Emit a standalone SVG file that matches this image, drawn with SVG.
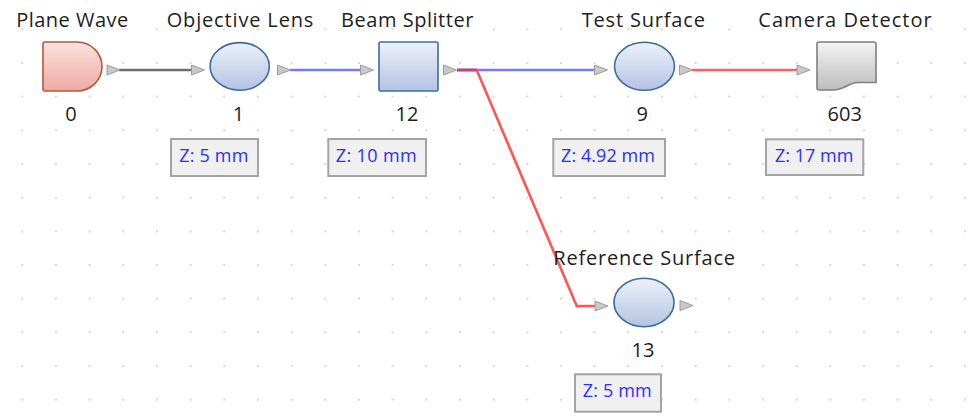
<svg xmlns="http://www.w3.org/2000/svg" width="971" height="419" viewBox="0 0 971 419">
<defs>
<pattern id="grid" patternUnits="userSpaceOnUse" x="21.3" y="28.3" width="33.667" height="33.667">
<rect x="0" y="0" width="2" height="2" fill="#d8d8d8"/>
</pattern>
<linearGradient id="gBlue" x1="0" y1="0" x2="0" y2="1">
<stop offset="0" stop-color="#edf1fa"/>
<stop offset="1" stop-color="#b3c3e3"/>
</linearGradient>
<linearGradient id="gRed" x1="0" y1="0" x2="0" y2="1">
<stop offset="0" stop-color="#fbe3df"/>
<stop offset="1" stop-color="#eeaaa1"/>
</linearGradient>
<linearGradient id="gGray" x1="0" y1="0" x2="0" y2="1">
<stop offset="0" stop-color="#f4f4f4"/>
<stop offset="1" stop-color="#bdbdbd"/>
</linearGradient>
<path id="tri" d="M0,-5 L13,0 L0,5 Z"/>
</defs>
<style>
.title{font-family:"Open Sans","Noto Sans","Liberation Sans",sans-serif;font-size:20px;fill:#1e1e1e;text-anchor:middle}
.num{font-family:"Open Sans","Noto Sans","Liberation Sans",sans-serif;font-size:20px;fill:#1e1e1e;text-anchor:middle}
.z{font-family:"Open Sans","Noto Sans","Liberation Sans",sans-serif;font-size:18px;fill:#2e2eff;text-anchor:middle}
.zbox{fill:#f0f0f0;stroke:#a4a4a4;stroke-width:2}
.lens{fill:url(#gBlue);stroke:#3e6c9c;stroke-width:1.6}
.port{fill:#c9c9c9;stroke:#9c9c9c;stroke-width:1}
.wire{fill:none;stroke-width:2.6}
</style>
<rect width="971" height="419" fill="#ffffff"/>
<rect width="971" height="419" fill="url(#grid)"/>

<g id="connectors">
<line class="wire" x1="119" y1="70" x2="191" y2="70" stroke="#6e6e6e"/>
<line class="wire" x1="290" y1="70" x2="360" y2="70" stroke="#7878ff"/>
<line class="wire" x1="457" y1="70" x2="594" y2="70" stroke="#7878ff"/>
<path class="wire" d="M457,70 H476.7 L576.7,306 H595" stroke="#ff5555" stroke-width="2"/>
<line class="wire" x1="457" y1="70" x2="476.7" y2="70" stroke="#c63f7c"/>
<line class="wire" x1="692" y1="70" x2="797" y2="70" stroke="#ff5f5f"/>
</g>

<g id="node-plane-wave">
<text class="title" x="72.2" y="27" textLength="112" lengthAdjust="spacing">Plane Wave</text>
<path d="M45,42 H77 A25,24.5 0 0 1 77,91 H45 Q43,91 43,89 V44 Q43,42 45,42 Z" fill="url(#gRed)" stroke="#b4583f" stroke-width="1.6"/>
<use href="#tri" x="107" y="70" class="port"/>
<text class="num" x="71" y="120.7">0</text>
</g>

<g id="node-objective-lens">
<text class="title" x="240" y="27" textLength="146.7" lengthAdjust="spacing">Objective Lens</text>
<use href="#tri" x="191.5" y="70" class="port"/>
<ellipse class="lens" cx="239.7" cy="66.4" rx="29.6" ry="23.8"/>
<use href="#tri" x="277.5" y="70" class="port"/>
<text class="num" x="238.5" y="120.7">1</text>
<rect class="zbox" x="171" y="139" width="87" height="37"/>
<text class="z" x="213.8" y="162.3" textLength="69" lengthAdjust="spacing">Z: 5 mm</text>
</g>

<g id="node-beam-splitter">
<text class="title" x="407.2" y="27" textLength="132.3" lengthAdjust="spacing">Beam Splitter</text>
<use href="#tri" x="360.5" y="70" class="port"/>
<rect x="379" y="42" width="59" height="49" rx="1.5" fill="url(#gBlue)" stroke="#3e6c9c" stroke-width="1.6"/>
<use href="#tri" x="443.5" y="70" class="port"/>
<text class="num" x="407" y="120.7">12</text>
<rect class="zbox" x="328.3" y="139" width="97.7" height="37"/>
<text class="z" x="376.2" y="162.3" textLength="81" lengthAdjust="spacing">Z: 10 mm</text>
</g>

<g id="node-test-surface">
<text class="title" x="643.3" y="27" textLength="123.3" lengthAdjust="spacing">Test Surface</text>
<use href="#tri" x="594.5" y="70" class="port"/>
<ellipse class="lens" cx="644.5" cy="66.3" rx="30" ry="24"/>
<use href="#tri" x="679.5" y="70" class="port"/>
<text class="num" x="642.2" y="120.7">9</text>
<rect class="zbox" x="553.3" y="139" width="111.7" height="37"/>
<text class="z" x="608" y="162.3" textLength="94" lengthAdjust="spacing">Z: 4.92 mm</text>
</g>

<g id="node-camera-detector">
<text class="title" x="845" y="27" textLength="173.3" lengthAdjust="spacing">Camera Detector</text>
<use href="#tri" x="797" y="70" class="port"/>
<path d="M819,42 H874 Q876,42 876,44 V82.5 H858 C848,82.5 845,90 833,90 H819 Q817,90 817,88 V44 Q817,42 819,42 Z" fill="url(#gGray)" stroke="#7f7f7f" stroke-width="1.6"/>
<text class="num" x="844.7" y="120.7">603</text>
<rect class="zbox" x="766" y="139.3" width="97.3" height="35.7"/>
<text class="z" x="814.2" y="161.8" textLength="78.3" lengthAdjust="spacing">Z: 17 mm</text>
</g>

<g id="node-reference-surface">
<text class="title" x="644.2" y="265" textLength="181.7" lengthAdjust="spacing">Reference Surface</text>
<use href="#tri" x="595" y="306" class="port"/>
<ellipse class="lens" cx="644" cy="302.5" rx="30" ry="24.3"/>
<use href="#tri" x="680" y="305.5" class="port"/>
<text class="num" x="643" y="356.7">13</text>
<rect class="zbox" x="575" y="374.3" width="86" height="37.4"/>
<text class="z" x="617.2" y="397.4" textLength="69" lengthAdjust="spacing">Z: 5 mm</text>
</g>
</svg>
